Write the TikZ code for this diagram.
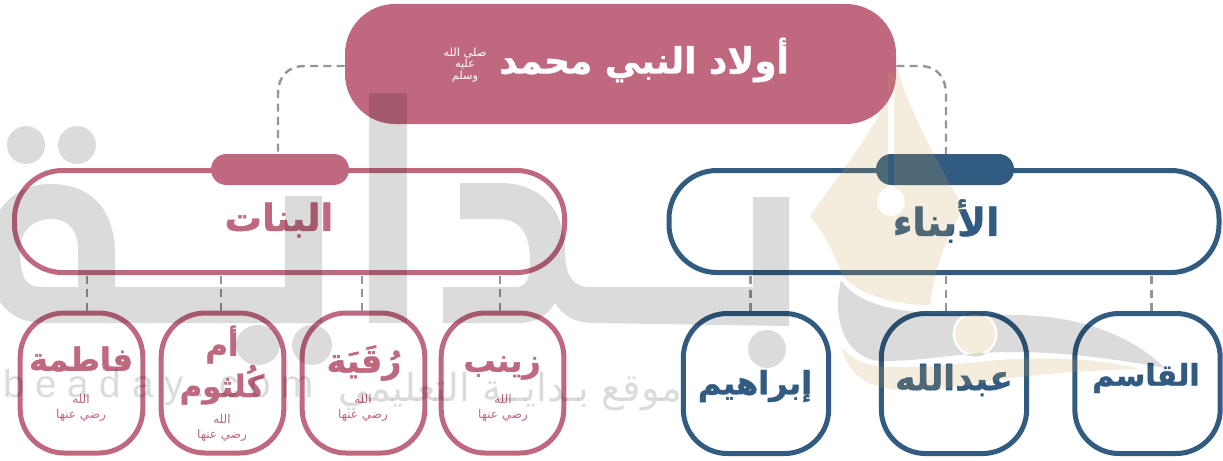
\documentclass[tikz,border=0pt]{standalone}
\usepackage{fontspec}
\setmainfont{Liberation Sans}
\newfontfamily\arabicfont[Script=Arabic]{DejaVu Sans}
\newfontfamily\arheavy[Script=Arabic,FakeBold=1.2]{DejaVu Sans Bold}
\TeXXeTstate=1
\newcommand{\ar}[1]{{\arheavy\beginR #1\endR}}
\newcommand{\arl}[1]{{\arabicfont\beginR #1\endR}}
\definecolor{pinkc}{HTML}{BF6880}
\definecolor{bluec}{HTML}{315B81}
\definecolor{dashc}{HTML}{939598}
\definecolor{creamc}{HTML}{C8A050}
\tikzset{
  headbox/.style={rectangle,fill=pinkc,minimum width=413.25pt,minimum height=90pt,rounded corners=37.5pt,inner sep=0pt,text=white},
  pill/.style={rectangle,minimum width=103.5pt,minimum height=23.25pt,rounded corners=11.5pt,inner sep=0pt},
  groupbox/.style={rectangle,draw,line width=3.75pt,minimum width=412.5pt,minimum height=76.5pt,rounded corners=36pt,inner sep=0pt},
  childbox/.style={rectangle,draw,line width=3.75pt,minimum width=92pt,minimum height=105pt,rounded corners=33pt,inner sep=0pt},
  boybox/.style={childbox,minimum width=109pt},
  link/.style={draw=dashc,line width=1.8pt,dash pattern=on 6pt off 4pt},
  lab/.style={inner sep=0pt,align=center},
  honor/.style={inner sep=0pt,align=center,font=\fontsize{9}{11}\selectfont,text=pinkc},
  wmgrey/.style={fill=black,fill opacity=.14,even odd rule},
  wmcream/.style={fill=creamc,fill opacity=.2,even odd rule},
  wmtext/.style={inner sep=0pt,anchor=west,text=black,text opacity=.14,font=\fontsize{29}{30}\selectfont}
}
\begin{document}
\begin{tikzpicture}[x=.75pt,y=-.75pt]
\useasboundingbox (0,0) rectangle (1223,460);
\node[headbox] (head) at (620.5,64) {};
\draw[link] (head.west|-620,66) -- (305,66) .. controls (288,66) and (278,76) .. (278,95) -- (278,155);
\draw[link] (head.east|-620,66) -- (920,66) .. controls (936,66) and (946,76) .. (946,95) -- (946,155);
\node[groupbox,draw=pinkc] (girls) at (289.5,221.5) {};
\node[groupbox,draw=bluec] (boys) at (944,221.5) {};
\node[pill,fill=pinkc] (gpill) at (280,169.5) {};
\node[pill,fill=bluec] (bpill) at (945,169.5) {};
\node[childbox,draw=pinkc] (fatima) at (81.5,383) {};
\node[childbox,draw=pinkc] (umm) at (222.5,383) {};
\node[childbox,draw=pinkc] (ruq) at (363.5,383) {};
\node[childbox,draw=pinkc] (zay) at (502.5,383) {};
\node[boybox,draw=bluec] (ibr) at (756,383.5) {};
\node[boybox,draw=bluec] (abd) at (954,383.5) {};
\node[boybox,draw=bluec] (qas) at (1147.5,383.5) {};
\foreach \n/\s/\g in {fatima/4/girls,umm/-1/girls,ruq/-1/girls,zay/-2/girls,ibr/-4/boys,abd/-6/boys,qas/3/boys}{
  \draw[link] ([xshift=\s pt]\n.north) -- ([xshift=\s pt,yshift=-1pt]\n.north |- \g.south);
}
% labels
\node[lab,text=white,font=\fontsize{27}{30}\selectfont] (t0) at (644,60) {\ar{أولاد النبي محمد}};
\node[lab,text=white,font=\fontsize{8.5}{9.5}\selectfont] (t0h) at (465,65) {\arl{صلى الله}\\[-1pt]\arl{عليه}\\[-1pt]\arl{وسلم}};
\node[lab,text=pinkc,font=\fontsize{28}{30}\selectfont] (t1) at (279,220) {\ar{البنات}};
\node[lab,text=bluec,font=\fontsize{29}{30}\selectfont] (t2) at (946,221) {\ar{الأبناء}};
\node[lab,text=pinkc,font=\fontsize{24}{26}\selectfont] (t3) at (81,359) {\ar{فاطمة}};
\node[lab,text=pinkc,font=\fontsize{23}{28}\selectfont] (t4) at (222,365) {\ar{أم}\\\ar{كُلثوم}};
\node[lab,text=pinkc,font=\fontsize{25}{26}\selectfont] (t5) at (364,363) {\ar{رُقَيَة}};
\node[lab,text=pinkc,font=\fontsize{24}{26}\selectfont] (t6) at (502,368) {\ar{زينب}};
\node[lab,text=bluec,font=\fontsize{24}{26}\selectfont] (t7) at (755,386) {\ar{إبراهيم}};
\node[lab,text=bluec,font=\fontsize{26}{26}\selectfont] (t8) at (954,380) {\ar{عبدالله}};
\node[lab,text=bluec,font=\fontsize{22.5}{26}\selectfont] (t9) at (1146,378) {\ar{القاسم}};
\node[honor] (h1) at (81,408) {\arl{الله}\\\arl{رضي عنها}};
\node[honor] (h2) at (222,428) {\arl{الله}\\\arl{رضي عنها}};
\node[honor] (h3) at (363,408) {\arl{الله}\\\arl{رضي عنها}};
\node[honor] (h4) at (503,408) {\arl{الله}\\\arl{رضي عنها}};
% watermark, grey word
\fill[wmgrey]
  (322,323) -- (45,323) .. controls (5,323) and (-12,295) .. (-12,255)
  .. controls (-12,210) and (15,184) .. (50,184)
  .. controls (92,184) and (115,210) .. (115,255) -- (115,287) -- (285,287) -- (285,196) -- (322,196) -- cycle
  (20,250) .. controls (20,285) and (30,287) .. (45,287) -- (78,287) -- (78,250)
  .. controls (78,230) and (68,219) .. (51,219) .. controls (34,219) and (20,230) .. (20,250) -- cycle;
\fill[wmgrey] (369,93) rectangle (407,323);
\fill[wmgrey]
  (460,183) -- (500,183) .. controls (545,183) and (565,215) .. (565,250)
  .. controls (565,275) and (572,287) .. (590,287) -- (753,287) -- (753,197) -- (789,197) -- (789,326)
  -- (592,323) .. controls (575,323) and (562,315) .. (555,303)
  .. controls (548,315) and (535,323) .. (520,323) -- (443,323) -- (443,287) -- (515,287)
  .. controls (526,287) and (530,280) .. (530,262) .. controls (530,232) and (520,219) .. (497,219) -- (460,219) -- cycle;
\fill[wmgrey] (26,145) ellipse (19 and 19) (77,145) ellipse (19 and 19)
  (258,345) ellipse (22 and 20) (312,345) ellipse (20 and 20) (767,349) ellipse (19 and 19);
% swoosh with the ring cut out
\fill[wmgrey] (841,280) .. controls (830,325) and (850,361) .. (882,361)
  .. controls (930,361) and (960,352) .. (1012,352)
  .. controls (1070,352) and (1120,360) .. (1165,368)
  .. controls (1130,335) and (1080,315) .. (1012,315)
  .. controls (930,315) and (865,315) .. (841,280) -- cycle
  (975,334) ellipse (22.5 and 22.5);
% nib, cream
\fill[wmcream] (897,67) .. controls (890,110) and (850,160) .. (810,216)
  .. controls (825,235) and (835,255) .. (842,275)
  .. controls (860,297) and (900,305) .. (930,305)
  .. controls (936,265) and (945,240) .. (964,208)
  .. controls (935,160) and (905,100) .. (897,67) -- cycle
  (888,72) -- (888,187) .. controls (873,192) and (873,215) .. (891,216)
  .. controls (909,215) and (909,192) .. (894,187) -- (894,72) -- cycle;
\fill[wmcream] (975,334) ellipse (20 and 20);
\fill[wmcream] (841,347) .. controls (850,378) and (870,388) .. (900,390)
  .. controls (950,392) and (990,380) .. (1012,378)
  .. controls (1060,372) and (1100,370) .. (1139,369)
  .. controls (1100,358) and (1050,358) .. (1012,359)
  .. controls (970,362) and (940,367) .. (900,367)
  .. controls (870,368) and (855,362) .. (841,347) -- cycle;
% watermark text
\node[wmtext] (w1) at (3,387) {b e a d a y . c o m};
\node[wmtext] (w2) at (338,392) {\arl{موقع بـدايــة التعليمي}};
\end{tikzpicture}
\end{document}
